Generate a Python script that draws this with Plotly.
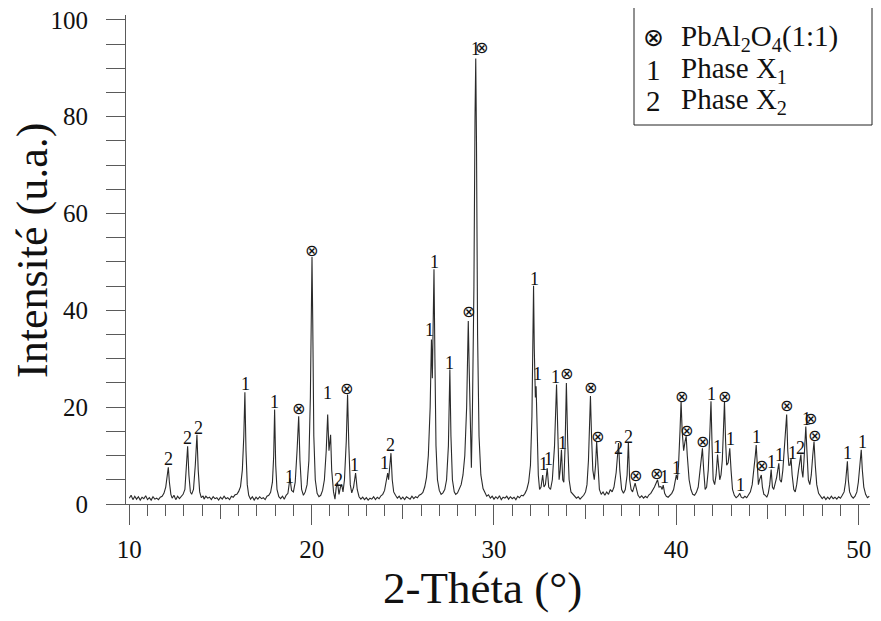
import plotly.graph_objects as go

# ---- spectrum (2-theta, intensity) ----
two_theta = [
    10.0, 10.1, 10.2, 10.3, 10.4, 10.5, 10.6, 10.7, 10.8, 10.9, 11.0, 11.1, 11.2, 11.3, 11.4, 11.5, 11.6, 11.7, 11.8, 11.9,
    12.0, 12.08, 12.14, 12.2, 12.28, 12.35, 12.45, 12.55, 12.65, 12.75, 12.85, 12.95, 13.05, 13.13, 13.2, 13.27, 13.35, 13.42,
    13.52, 13.62, 13.71, 13.78, 13.86, 13.95, 14.05, 14.1, 14.2, 14.3, 14.4, 14.5, 14.6, 14.7, 14.8, 14.9, 15.0, 15.1, 15.2,
    15.3, 15.4, 15.5, 15.6, 15.7, 15.8, 15.9, 16.0, 16.1, 16.2, 16.28, 16.34, 16.4, 16.47, 16.55, 16.65, 16.75, 16.85, 16.95,
    17.05, 17.15, 17.25, 17.35, 17.45, 17.55, 17.65, 17.75, 17.85, 17.92, 17.97, 18.03, 18.1, 18.2, 18.3, 18.4, 18.5, 18.6,
    18.7, 18.81, 18.9, 19.0, 19.1, 19.2, 19.29, 19.36, 19.45, 19.55, 19.65, 19.75, 19.85, 19.93, 20.0, 20.02, 20.06, 20.12,
    20.2, 20.3, 20.4, 20.5, 20.6, 20.7, 20.8, 20.88, 20.95, 21.04, 21.1, 21.2, 21.28, 21.35, 21.42, 21.5, 21.58, 21.65, 21.72,
    21.8, 21.9, 21.97, 22.04, 22.12, 22.2, 22.3, 22.41, 22.5, 22.6, 22.7, 22.8, 22.9, 23.0, 23.1, 23.2, 23.3, 23.4, 23.5, 23.6,
    23.7, 23.8, 23.9, 24.0, 24.1, 24.17, 24.22, 24.28, 24.35, 24.42, 24.5, 24.6, 24.7, 24.8, 24.9, 25.0, 25.1, 25.2, 25.3,
    25.4, 25.5, 25.6, 25.7, 25.8, 25.9, 26.0, 26.1, 26.2, 26.3, 26.4, 26.5, 26.57, 26.62, 26.67, 26.71, 26.76, 26.82, 26.9,
    27.0, 27.1, 27.2, 27.3, 27.4, 27.5, 27.58, 27.64, 27.72, 27.82, 27.9, 28.0, 28.1, 28.2, 28.3, 28.4, 28.5, 28.59, 28.64,
    28.7, 28.76, 28.82, 28.9, 28.96, 29.0, 29.04, 29.1, 29.18, 29.28, 29.4, 29.5, 29.6, 29.7, 29.8, 29.9, 30.0, 30.1, 30.2,
    30.3, 30.4, 30.5, 30.6, 30.7, 30.8, 30.9, 31.0, 31.1, 31.2, 31.3, 31.4, 31.5, 31.6, 31.7, 31.8, 31.9, 32.0, 32.08, 32.14,
    32.17, 32.21, 32.27, 32.31, 32.36, 32.43, 32.5, 32.58, 32.67, 32.74, 32.82, 32.92, 33.0, 33.1, 33.2, 33.32, 33.43, 33.5,
    33.57, 33.63, 33.7, 33.77, 33.83, 33.9, 33.97, 34.04, 34.12, 34.22, 34.32, 34.42, 34.52, 34.62, 34.72, 34.82, 34.92,
    35.02, 35.1, 35.18, 35.25, 35.29, 35.35, 35.42, 35.5, 35.57, 35.63, 35.7, 35.78, 35.88, 35.98, 36.08, 36.18, 36.28, 36.38,
    36.48, 36.58, 36.7, 36.78, 36.83, 36.9, 37.0, 37.1, 37.2, 37.3, 37.37, 37.44, 37.52, 37.6, 37.68, 37.74, 37.82, 37.9,
    38.0, 38.1, 38.2, 38.3, 38.4, 38.5, 38.6, 38.7, 38.8, 38.9, 38.97, 39.05, 39.15, 39.22, 39.28, 39.36, 39.45, 39.55, 39.65,
    39.75, 39.85, 39.93, 40.0, 40.06, 40.12, 40.2, 40.26, 40.32, 40.4, 40.48, 40.54, 40.6, 40.7, 40.8, 40.9, 41.0, 41.1, 41.2,
    41.3, 41.38, 41.43, 41.5, 41.58, 41.66, 41.75, 41.83, 41.9, 41.96, 42.02, 42.1, 42.18, 42.26, 42.32, 42.38, 42.45, 42.52,
    42.58, 42.64, 42.7, 42.76, 42.84, 42.93, 43.0, 43.08, 43.18, 43.28, 43.38, 43.48, 43.56, 43.66, 43.76, 43.86, 43.96,
    44.06, 44.16, 44.26, 44.33, 44.38, 44.44, 44.5, 44.56, 44.62, 44.66, 44.72, 44.8, 44.88, 44.96, 45.04, 45.12, 45.2,
    45.27, 45.34, 45.42, 45.5, 45.56, 45.62, 45.68, 45.76, 45.84, 45.92, 46.0, 46.05, 46.11, 46.17, 46.23, 46.29, 46.35,
    46.44, 46.52, 46.6, 46.7, 46.78, 46.83, 46.88, 46.94, 47.0, 47.06, 47.1, 47.16, 47.24, 47.32, 47.4, 47.48, 47.55, 47.62,
    47.7, 47.8, 47.9, 48.0, 48.1, 48.2, 48.3, 48.4, 48.5, 48.6, 48.7, 48.8, 48.9, 49.0, 49.1, 49.2, 49.28, 49.34, 49.38,
    49.43, 49.5, 49.6, 49.7, 49.8, 49.9, 49.98, 50.06, 50.14, 50.2, 50.28, 50.38, 50.48, 50.58,
]
intensity = [
    1.2, 1.8, 0.9, 1.6, 1.0, 1.5, 0.8, 1.4, 1.1, 1.7, 0.9, 1.3, 0.8, 1.5, 1.0, 1.2, 0.9, 1.4, 1.6, 2.2,
    3.5, 6.0, 7.6, 4.5, 2.0, 1.2, 1.8, 0.9, 1.6, 1.1, 1.5, 2.0, 3.0, 7.0, 11.9, 6.0, 2.5, 2.0,
    3.0, 8.0, 14.3, 7.0, 2.5, 1.3, 1.7, 1.0, 1.6, 1.2, 1.4, 0.9, 1.5, 1.1, 1.3, 0.8, 1.4, 1.0, 1.6,
    1.1, 1.3, 0.9, 1.6, 1.4, 1.9, 2.0, 2.6, 3.6, 7.0, 14.0, 23.1, 11.0, 4.0, 1.8, 1.0, 1.5, 0.8, 1.4,
    1.0, 1.5, 1.1, 1.3, 0.9, 1.6, 1.8, 2.4, 4.5, 10.0, 19.5, 8.0, 3.0, 1.5, 1.1, 1.6, 1.0, 1.8,
    2.2, 5.3, 2.8, 2.5, 4.5, 11.0, 18.1, 9.0, 3.0, 1.8, 2.5, 4.0, 9.0, 22.0, 45.0, 51.0, 38.0, 14.0,
    5.0, 2.2, 1.5, 1.8, 2.8, 5.0, 11.0, 18.5, 11.0, 14.3, 7.0, 2.5, 1.0, 3.5, 4.4, 2.0, 3.5, 4.0, 2.5,
    5.0, 13.0, 22.6, 12.0, 4.0, 2.3, 3.5, 6.4, 3.0, 1.5, 1.0, 1.4, 0.9, 1.3, 0.8, 1.2, 1.0, 1.5, 0.9, 1.4,
    1.1, 1.7, 2.0, 2.8, 4.5, 6.4, 5.0, 7.0, 10.5, 5.0, 2.5, 1.8, 1.2, 1.6, 1.0, 1.4, 0.9, 1.5, 1.2,
    1.0, 1.6, 1.1, 1.5, 1.3, 1.8, 2.0, 2.4, 3.5, 5.5, 10.0, 20.0, 34.0, 26.0, 38.0, 48.5, 30.0, 12.0, 5.0,
    2.8, 2.0, 2.3, 3.0, 5.0, 12.0, 27.8, 14.0, 5.0, 2.5, 2.0, 2.3, 3.0, 4.0, 6.0, 10.0, 20.0, 37.8, 28.0,
    14.0, 7.5, 20.0, 45.0, 80.0, 92.0, 75.0, 35.0, 14.0, 6.0, 3.2, 2.3, 1.6, 1.9, 1.2, 1.6, 1.0, 1.5, 1.1,
    1.7, 0.9, 1.4, 1.2, 1.6, 1.0, 1.5, 1.1, 1.4, 0.9, 1.6, 1.3, 1.8, 1.7, 2.2, 3.0, 4.5, 8.0, 18.0, 35.0,
    45.1, 32.0, 22.0, 24.3, 14.0, 6.0, 3.0, 3.5, 6.0, 3.5, 4.0, 7.4, 3.5, 3.0, 5.0, 12.0, 24.7, 12.0,
    5.0, 7.0, 11.2, 5.0, 4.5, 12.0, 25.0, 13.0, 5.0, 2.5, 2.0, 1.6, 1.2, 1.5, 1.0, 1.4, 1.8,
    2.5, 4.0, 9.0, 18.0, 22.3, 14.0, 7.0, 5.0, 8.0, 12.9, 7.0, 3.0, 2.0, 2.5, 1.8, 2.5, 2.0, 3.0,
    2.5, 3.5, 6.5, 11.0, 12.6, 7.0, 3.0, 2.2, 3.0, 6.0, 12.8, 5.0, 3.0, 2.5, 3.5, 4.3, 3.0, 1.8,
    1.3, 1.7, 1.2, 1.6, 1.3, 1.9, 2.2, 2.8, 3.5, 4.4, 5.0, 3.5, 3.6, 3.0, 3.9, 2.2, 1.6, 1.4, 1.8,
    2.2, 3.0, 4.5, 6.0, 5.0, 8.0, 15.0, 21.2, 15.0, 11.0, 13.0, 14.0, 10.0, 5.0, 3.0, 2.0, 1.8, 2.4, 3.5,
    6.5, 10.0, 11.5, 7.0, 3.0, 3.5, 7.0, 14.0, 21.2, 12.0, 5.0, 4.0, 6.0, 10.2, 7.0, 5.0, 6.0, 9.0,
    15.0, 21.2, 13.0, 8.0, 8.5, 11.5, 7.0, 3.0, 1.8, 1.3, 1.6, 2.2, 1.4, 1.2, 1.6, 1.3, 1.9,
    2.5, 4.0, 7.0, 10.0, 12.2, 6.0, 4.0, 5.0, 5.8, 6.0, 3.5, 2.0, 1.8, 1.4, 2.2, 4.0, 7.1,
    3.5, 3.0, 4.0, 5.5, 7.0, 8.4, 5.0, 4.5, 7.0, 11.0, 16.0, 18.5, 11.0, 8.0, 8.0, 9.5, 6.0,
    3.0, 2.5, 4.0, 7.0, 9.5, 10.2, 7.0, 5.5, 9.0, 13.0, 16.0, 11.0, 5.0, 4.0, 6.0, 10.0, 12.9, 8.0,
    4.0, 2.2, 1.6, 1.1, 1.5, 0.9, 1.4, 1.0, 1.6, 1.1, 1.4, 1.0, 1.5, 1.2, 1.8, 2.5, 4.5, 7.0, 8.8,
    5.0, 2.5, 1.6, 1.2, 1.6, 2.5, 4.5, 8.0, 11.2, 7.0, 3.5, 2.0, 1.3, 1.6,
]

# ---- peak labels (text, position) ----
X = "\u2297"
label_text = ["2", "2", "2", "1", "1", "1", X, X, "1", "2", X, "1",
              "1", "2", "1", "1", "1", X, "1", X,
              "1", "1", "1", "1", "1", "1", X, X, X,
              "2", "2", X, X, "1", "1", X, X, X, "1", "1", X, "1", "1",
              "1", X, "1", "1", X, "1", "2", "1", X, X, "1", "1"]
label_x = [12.14, 13.17, 13.77, 16.38, 17.97, 18.79, 19.29, 19.97, 20.88, 21.48, 21.91, 22.37,
           23.99, 24.35, 26.48, 26.75, 27.56, 28.59, 28.98, 29.3,
           32.2, 32.4, 32.71, 33.0, 33.36, 33.74, 34.0, 35.29, 35.65,
           36.83, 37.37, 37.74, 38.93, 39.37, 40.0, 40.27, 40.54, 41.41, 41.94, 42.28, 42.63, 42.99, 43.5,
           44.42, 44.67, 45.22, 45.65, 46.05, 46.39, 46.83, 47.12, 47.38, 47.55, 49.38, 50.2]
label_y = [9.2, 13.6, 15.6, 24.7, 21.1, 5.6, 19.8, 52.3, 22.9, 5.0, 23.9, 8.1,
           8.4, 12.2, 35.9, 49.9, 29.2, 39.7, 94.0, 94.2,
           46.4, 26.8, 8.3, 9.2, 26.3, 12.5, 26.9, 24.1, 13.9,
           11.5, 13.8, 5.8, 6.2, 5.6, 7.4, 22.3, 15.1, 12.9, 22.7, 11.8, 22.2, 13.4, 3.9,
           13.8, 7.9, 8.6, 10.1, 20.3, 10.6, 11.5, 17.6, 17.6, 14.1, 10.5, 12.9]

# ---- legend entries ----
legend_symbols = [X, "1", "2"]
legend_texts = ["PbAl<sub>2</sub>O<sub>4</sub>(1:1)", "Phase X<sub>1</sub>", "Phase X<sub>2</sub>"]

# ---- axes ----
x_range = [9.82, 50.62]
y_range = [0, 101]
x_label_ticks = [10, 20, 30, 40, 50]
y_label_ticks = [0, 20, 40, 60, 80, 100]

SERIF = "Liberation Serif"
AXC = "#5a5a5a"

# The page body has an 8px margin; lay out in page pixels and shift.
OFF = 8
W, H = 881 - 2 * OFF, 621 - 2 * OFF
PLOT_L, PLOT_R, PLOT_T, PLOT_B = 126, 870, 15, 504     # page pixels of plot area
ML, MT = PLOT_L - OFF, PLOT_T - OFF
MR = W - (PLOT_R - OFF)
MB = H - (PLOT_B - OFF)
PW, PH = W - ML - MR, H - MT - MB


def px2paper_x(px):
    return (px - OFF - ML) / PW


def px2paper_y(py):
    return (MT + PH - (py - OFF)) / PH


fig = go.Figure()
fig.add_trace(go.Scatter(x=two_theta, y=intensity, mode="lines",
                         line=dict(color="#2a2a2a", width=1.1), hoverinfo="skip", showlegend=False))
fig.add_trace(go.Scatter(x=two_theta, y=intensity, mode="lines", xaxis="x2",
                         line=dict(color="rgba(0,0,0,0)", width=0), hoverinfo="skip", showlegend=False))

for t, xv, yv in zip(label_text, label_x, label_y):
    fig.add_annotation(x=xv, y=yv, text=t, showarrow=False, xanchor="center", yanchor="middle",
                       borderpad=0,
                       font=dict(family=SERIF if t != X else "DejaVu Sans", size=18 if t != X else 16,
                                 color="#111"))

# legend box
L_LEFT, L_RIGHT, L_TOP, L_BOT = 634, 872, 7, 125
fig.add_shape(type="rect", xref="paper", yref="paper",
              x0=px2paper_x(L_LEFT), x1=px2paper_x(L_RIGHT),
              y0=px2paper_y(L_BOT), y1=px2paper_y(L_TOP),
              line=dict(color="#222", width=1), fillcolor="white")
rows_py = [38, 70, 101]
for sym, txt, py in zip(legend_symbols, legend_texts, rows_py):
    fig.add_annotation(xref="paper", yref="paper", x=px2paper_x(653), y=px2paper_y(py),
                       text=sym, showarrow=False, xanchor="center", yanchor="middle", borderpad=0,
                       font=dict(family=SERIF if sym != X else "DejaVu Sans", size=29 if sym != X else 25,
                                 color="#111"))
    fig.add_annotation(xref="paper", yref="paper", x=px2paper_x(680), y=px2paper_y(py),
                       text=txt, showarrow=False, xanchor="left", yanchor="middle", borderpad=0,
                       font=dict(family=SERIF, size=29, color="#111"))

# axis titles
fig.add_annotation(xref="paper", yref="paper", x=px2paper_x(482), y=px2paper_y(588),
                   text="2-Théta (°)", showarrow=False, xanchor="center", yanchor="middle", borderpad=0,
                   font=dict(family=SERIF, size=45, color="#111"))
fig.add_annotation(xref="paper", yref="paper", x=px2paper_x(32), y=px2paper_y(251),
                   text="Intensité (u.a.)", showarrow=False, xanchor="center", yanchor="middle", borderpad=0,
                   textangle=-90, font=dict(family=SERIF, size=44, color="#111"))

fig.update_layout(
    width=W, height=H,
    margin=dict(l=ML, r=MR, t=MT, b=MB, pad=0, autoexpand=False),
    paper_bgcolor="white", plot_bgcolor="white",
    showlegend=False,
    xaxis=dict(range=x_range, automargin=False, showgrid=False, zeroline=False, showline=True,
               linecolor=AXC, linewidth=1,
               ticks="outside", tickmode="linear", tick0=10, dtick=5, ticklen=14, tickcolor=AXC,
               showticklabels=False,
               minor=dict(ticks="outside", dtick=1, tick0=10, ticklen=11, tickcolor=AXC, showgrid=False)),
    xaxis2=dict(range=x_range, automargin=False, overlaying="x", anchor="y", side="bottom", showgrid=False,
                zeroline=False, showline=False, ticks="outside", tickmode="array", tickvals=x_label_ticks,
                ticktext=[str(v) for v in x_label_ticks], ticklen=20, tickcolor=AXC,
                ticklabelstandoff=3, ticklabeloverflow="allow",
                tickfont=dict(family=SERIF, size=25, color="#111")),
    yaxis=dict(range=y_range, automargin=False, showgrid=False, zeroline=False, showline=True,
               linecolor=AXC, linewidth=1,
               ticks="outside", tickmode="array", tickvals=y_label_ticks,
               ticktext=[str(v) for v in y_label_ticks], ticklen=19, tickcolor=AXC,
               ticklabelstandoff=13, ticklabeloverflow="allow",
               tickfont=dict(family=SERIF, size=25, color="#111"),
               minor=dict(ticks="outside", dtick=5, tick0=0, ticklen=19, tickcolor=AXC, showgrid=False)),
)

fig.write_html("out.html")
